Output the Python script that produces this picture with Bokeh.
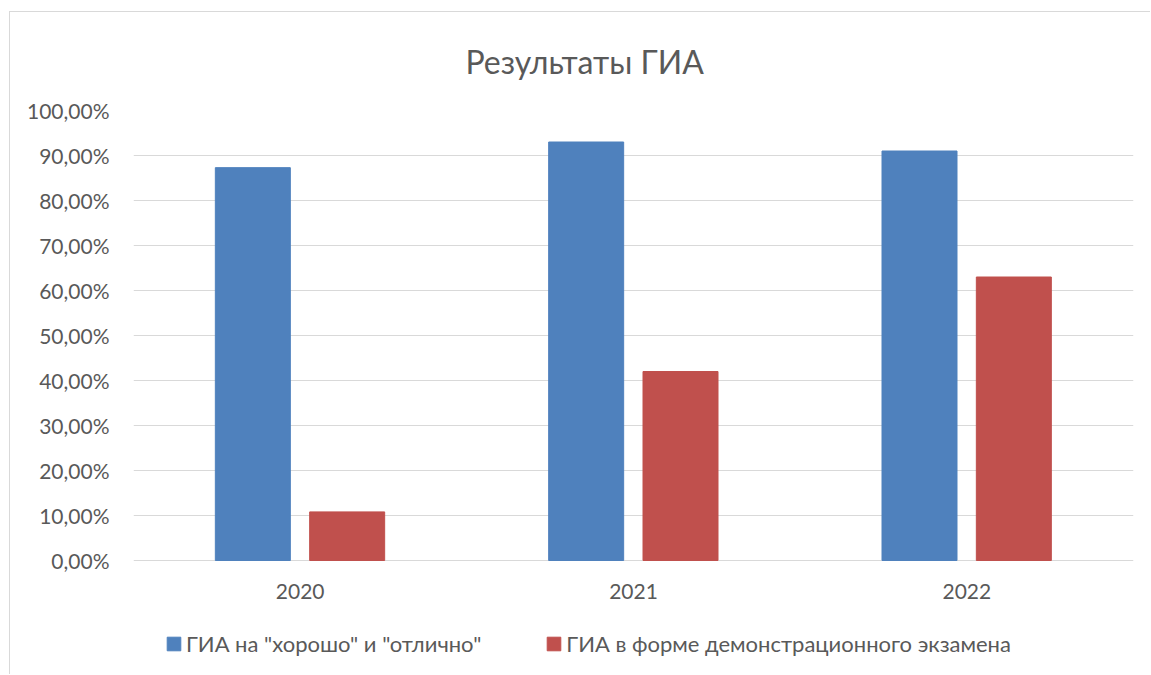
from bokeh.plotting import figure
from bokeh.models import (FactorRange, Range1d, FixedTicker, Legend, LegendItem,
                          ColumnDataSource)
from bokeh.core.properties import value
from bokeh.transform import dodge
from bokeh.embed import file_html
from bokeh.resources import INLINE

# ---- data ----
years = ["2020", "2021", "2022"]
good_excellent = [87.3, 93.0, 91.0]
demo_exam = [10.8, 42.0, 63.0]
series_names = ['ГИА на "хорошо" и "отлично"', 'ГИА в форме демонстрационного экзамена']
y_ticks = [0, 10, 20, 30, 40, 50, 60, 70, 80, 90, 100]
y_tick_labels = ["0,00%", "10,00%", "20,00%", "30,00%", "40,00%", "50,00%",
                 "60,00%", "70,00%", "80,00%", "90,00%", "100,00%"]
title_text = "Результаты ГИА"

FONT = "Lato"
TXT = "#595959"
BLUE = "#4F81BD"
RED = "#C0504D"

# layout (pixels)
W, H = 1141, 663
B_LEFT, B_RIGHT, B_TOP, B_BOTTOM = 123, 18, 98, 2
PX_PER_UNIT = 4.5  # 100 % spans 450 px
frame_h = H - B_TOP - B_BOTTOM
y_start = 100 - frame_h / PX_PER_UNIT

src = ColumnDataSource(dict(year=years, a=good_excellent, b=demo_exam))

p = figure(width=W, height=H,
           x_range=FactorRange(*years, range_padding=0, factor_padding=0),
           y_range=Range1d(y_start, 100),
           x_axis_location=None,
           output_backend="svg", toolbar_location=None,
           min_border_left=B_LEFT, min_border_right=B_RIGHT,
           min_border_top=B_TOP, min_border_bottom=B_BOTTOM)

r1 = p.vbar(x=dodge("year", -0.142, range=p.x_range), top="a", bottom=0, width=0.225,
            source=src, fill_color=BLUE, line_color=BLUE)
r2 = p.vbar(x=dodge("year", 0.141, range=p.x_range), top="b", bottom=0, width=0.225,
            source=src, fill_color=RED, line_color=RED)

# category labels under the zero line
p.text(x="year", y=0, text="year", source=src, y_offset=31,
       text_align="center", text_baseline="middle",
       text_font=value(FONT), text_font_size="21px", text_color=TXT)

p.title.text = title_text
p.title.align = "left"
p.title.offset = 332
p.title.vertical_align = "top"
p.title.text_font = FONT
p.title.text_font_size = "32px"
p.title.text_font_style = "normal"
p.title.text_color = TXT
p.title.standoff = 56

p.outline_line_color = None
p.xgrid.grid_line_color = None
p.ygrid.grid_line_color = "#d9d9d9"
p.ygrid.grid_line_width = 1

p.yaxis.ticker = FixedTicker(ticks=y_ticks)
p.yaxis.major_label_overrides = dict(zip(y_ticks, y_tick_labels))
p.yaxis.axis_line_color = None
p.yaxis.major_tick_line_color = None
p.yaxis.minor_tick_line_color = None
p.yaxis.major_label_standoff = 18
p.yaxis.major_label_text_font = FONT
p.yaxis.major_label_text_font_size = "21px"
p.yaxis.major_label_text_color = TXT

legend = Legend(items=[LegendItem(label=series_names[0], renderers=[r1]),
                       LegendItem(label=series_names[1], renderers=[r2])],
                orientation="horizontal", location=(32, 16),
                glyph_width=17, glyph_height=17, label_standoff=4, spacing=64,
                padding=0, margin=0, border_line_color=None,
                background_fill_alpha=0,
                label_text_font=FONT, label_text_font_size="22px",
                label_text_color=TXT)
p.add_layout(legend)

p.styles = {"border-left": "1px solid #d9d9d9", "border-top": "1px solid #d9d9d9",
            "margin-left": "9px", "margin-top": "11px"}

open("out.html", "w").write(file_html(p, INLINE))
